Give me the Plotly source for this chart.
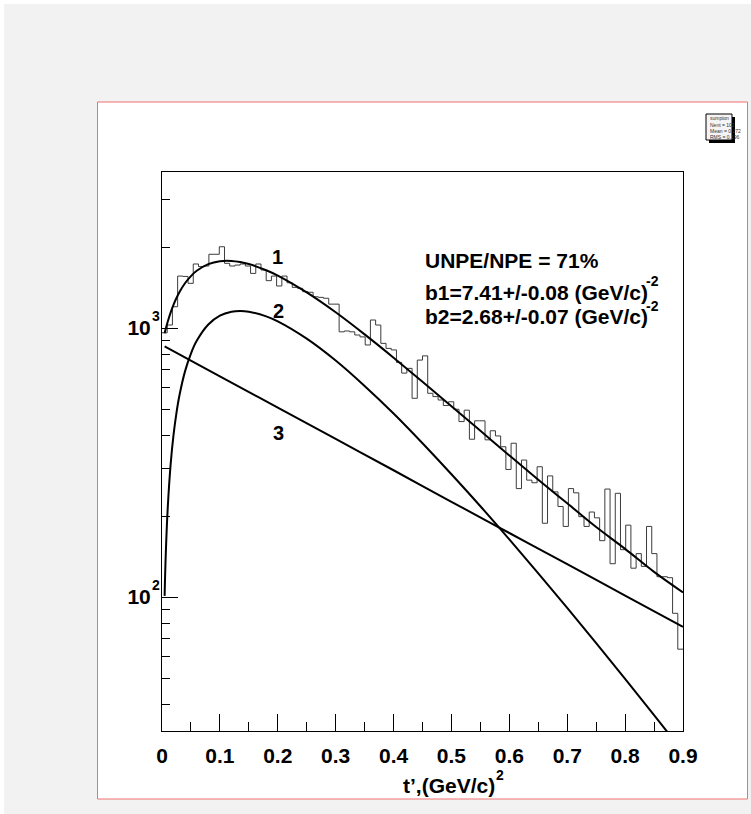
import math
import plotly.graph_objects as go

W, H = 751, 814

# ---------------- data ----------------
bin_width = 0.009
hist_counts = [
    960, 1026, 1200, 1560, 1555, 1466, 1730, 1692, 1700, 1880,
    1880, 2005, 1740, 1700, 1714, 1730, 1700, 1596, 1730, 1643,
    1500, 1560, 1433, 1560, 1473, 1416, 1405, 1365, 1358, 1307,
    1300, 1290, 1227, 1227, 968, 975, 968, 942, 927, 865,
    1071, 1026, 877, 840, 829, 745, 680, 708, 548, 760,
    788, 572, 556, 540, 515, 532, 499, 449, 495, 386,
    452, 452, 384, 415, 397, 362, 298, 373, 253, 323,
    272, 266, 305, 188, 282, 246, 217, 183, 253, 244,
    199, 183, 207, 197, 162, 252, 133, 243, 150, 185,
    128, 145, 130, 183, 145, 119, 119, 118, 87, 64,
]

curve_t = [0.0045, 0.0065, 0.01, 0.015, 0.02, 0.025, 0.03, 0.04, 0.05, 0.06,
           0.08, 0.10, 0.12, 0.135, 0.15, 0.18, 0.20, 0.25, 0.30, 0.35,
           0.40, 0.45, 0.50, 0.55, 0.60, 0.65, 0.70, 0.75, 0.80, 0.85, 0.90]
curve1 = [956, 994, 1058, 1144, 1222, 1293, 1358, 1470, 1560, 1632,
          1728, 1772, 1776, 1759, 1729, 1639, 1566, 1356, 1144, 947,
          776, 631, 512, 415, 336, 273, 223, 182, 151, 124, 104]
curve2 = [101, 144, 216, 313, 402, 484, 560, 693, 804, 896,
          1030, 1111, 1149, 1157, 1150, 1105, 1059, 913, 757, 609,
          481, 373, 286, 217.5, 163.8, 122.5, 91.1, 67.4, 49.6, 36.4, 26.6]
curve3_t = [0.0045, 0.1, 0.2, 0.3, 0.4, 0.5, 0.6, 0.7, 0.8, 0.9]
curve3 = [854.6, 661, 506, 387, 296, 226, 173, 132.5, 101.3, 77.5]

x_ticks = [0, 0.1, 0.2, 0.3, 0.4, 0.5, 0.6, 0.7, 0.8, 0.9]
x_ticktext = ["0", "0.1", "0.2", "0.3", "0.4", "0.5", "0.6", "0.7", "0.8", "0.9"]
x_minor = [0.05, 0.15, 0.25, 0.35, 0.45, 0.55, 0.65, 0.75, 0.85]
y_ticks = [100, 1000]
y_ticktext = ["10", "10"]
y_tick_exponents = ["2", "3"]
y_minor = [40, 50, 60, 70, 80, 90, 200, 300, 400, 500, 600, 700, 800, 900, 2000, 3000]

stats_lines = ["sumpion", "Nent = 102", "Mean = 0.272", "RMS = 0.196"]

# ---------------- helpers ----------------
def px(x):
    return x / W

def py(y):
    return 1 - y / H

FONT = "Liberation Sans, Arial, sans-serif"
bold21 = dict(family=FONT, size=21, color="black", weight="bold")
bold14 = dict(family=FONT, size=14, color="black", weight="bold")

# ---------------- figure ----------------
fig = go.Figure()

edges = [round(i * bin_width, 4) for i in range(len(hist_counts) + 1)]
fig.add_trace(go.Scatter(
    x=edges, y=hist_counts + [hist_counts[-1]],
    mode="lines", line=dict(shape="hv", color="#3c3c3c", width=1),
    hoverinfo="skip", showlegend=False))

for t, v in [(curve_t, curve1), (curve_t, curve2), (curve3_t, curve3)]:
    fig.add_trace(go.Scatter(
        x=t, y=v, mode="lines",
        line=dict(shape="spline", color="black", width=2),
        hoverinfo="skip", showlegend=False))

shapes = [
    dict(type="rect", xref="paper", yref="paper", x0=0, x1=1, y0=py(4), y1=1,
         fillcolor="white", line=dict(width=0), layer="below"),
    dict(type="rect", xref="paper", yref="paper", x0=0, x1=px(4), y0=0, y1=1,
         fillcolor="white", line=dict(width=0), layer="below"),
    dict(type="rect", xref="paper", yref="paper", x0=px(97.5), x1=px(747.5),
         y0=py(799), y1=py(102), fillcolor="white",
         line=dict(color="#f07070", width=1), layer="below"),
    dict(type="rect", xref="paper", yref="paper", x0=px(709), x1=px(735),
         y0=py(143), y1=py(117), fillcolor="black", line=dict(width=0)),
    dict(type="rect", xref="paper", yref="paper", x0=px(706), x1=px(732),
         y0=py(140), y1=py(114), fillcolor="#f4f4f4",
         line=dict(color="black", width=1)),
]

annotations = []
for i, s in enumerate(stats_lines):
    annotations.append(dict(
        xref="paper", yref="paper", x=px(707.5), y=py(118 + i * 6.5),
        text=s, showarrow=False, xanchor="left", yanchor="middle",
        font=dict(family=FONT, size=5, color="#333")))

annotations += [
    dict(xref="paper", yref="paper", x=px(423), y=py(260),
         text="UNPE/NPE = 71%", showarrow=False, xanchor="left",
         yanchor="middle", font=bold21),
    dict(xref="paper", yref="paper", x=px(423), y=py(292),
         text="b1=7.41+/-0.08 (GeV/c)", showarrow=False,
         xanchor="left", yanchor="middle", font=bold21),
    dict(xref="paper", yref="paper", x=px(644), y=py(281),
         text="-2", showarrow=False, xanchor="left", yanchor="middle",
         font=bold14),
    dict(xref="paper", yref="paper", x=px(423), y=py(317),
         text="b2=2.68+/-0.07 (GeV/c)", showarrow=False,
         xanchor="left", yanchor="middle", font=bold21),
    dict(xref="paper", yref="paper", x=px(644), y=py(306),
         text="-2", showarrow=False, xanchor="left", yanchor="middle",
         font=bold14),
    dict(xref="paper", yref="paper", x=px(401), y=py(785),
         text="t’,(GeV/c)", showarrow=False,
         xanchor="left", yanchor="middle", font=bold21),
    dict(xref="paper", yref="paper", x=px(494), y=py(775),
         text="2", showarrow=False, xanchor="left", yanchor="middle",
         font=bold14),
]
for val, e in zip(y_ticks, y_tick_exponents):
    annotations.append(dict(
        xref="paper", yref="y", x=px(150), y=math.log10(val), yshift=12,
        text=e, showarrow=False, xanchor="left", yanchor="middle",
        font=bold14))
for lab, x, y in [("1", 277, 257), ("2", 278, 311), ("3", 278, 433)]:
    annotations.append(dict(
        xref="paper", yref="paper", x=px(x), y=py(y), text=lab,
        showarrow=False, xanchor="center", yanchor="middle",
        font=dict(family=FONT, size=20, color="black", weight="bold")))

fig.update_layout(
    width=W, height=H,
    margin=dict(l=0, r=0, t=0, b=0, pad=0, autoexpand=False),
    paper_bgcolor="#f2f2f2", plot_bgcolor="white",
    shapes=shapes, annotations=annotations,
    xaxis=dict(
        domain=[px(162), px(683)], range=[0, 0.9],
        showgrid=False, zeroline=False,
        showline=True, linecolor="black", linewidth=1, mirror=True,
        ticks="inside", ticklen=17, tickwidth=1, tickcolor="black",
        tickmode="array", tickvals=x_ticks, ticktext=x_ticktext,
        tickfont=bold21, ticklabelstandoff=6,
        minor=dict(ticks="inside", ticklen=9, tickwidth=1, tickcolor="black",
                   tickmode="array", tickvals=x_minor, showgrid=False),
    ),
    yaxis=dict(
        domain=[py(731), py(172)], type="log", range=[1.502, 3.58],
        showgrid=False, zeroline=False,
        showline=True, linecolor="black", linewidth=1, mirror=True,
        ticks="inside", ticklen=16, tickwidth=1, tickcolor="black",
        tickmode="array", tickvals=y_ticks, ticktext=y_ticktext,
        tickfont=bold21, ticklabelstandoff=6,
        minor=dict(ticks="inside", ticklen=8, tickwidth=1, tickcolor="black",
                   tickmode="array", tickvals=y_minor, showgrid=False),
    ),
)

fig.write_html("out.html")
